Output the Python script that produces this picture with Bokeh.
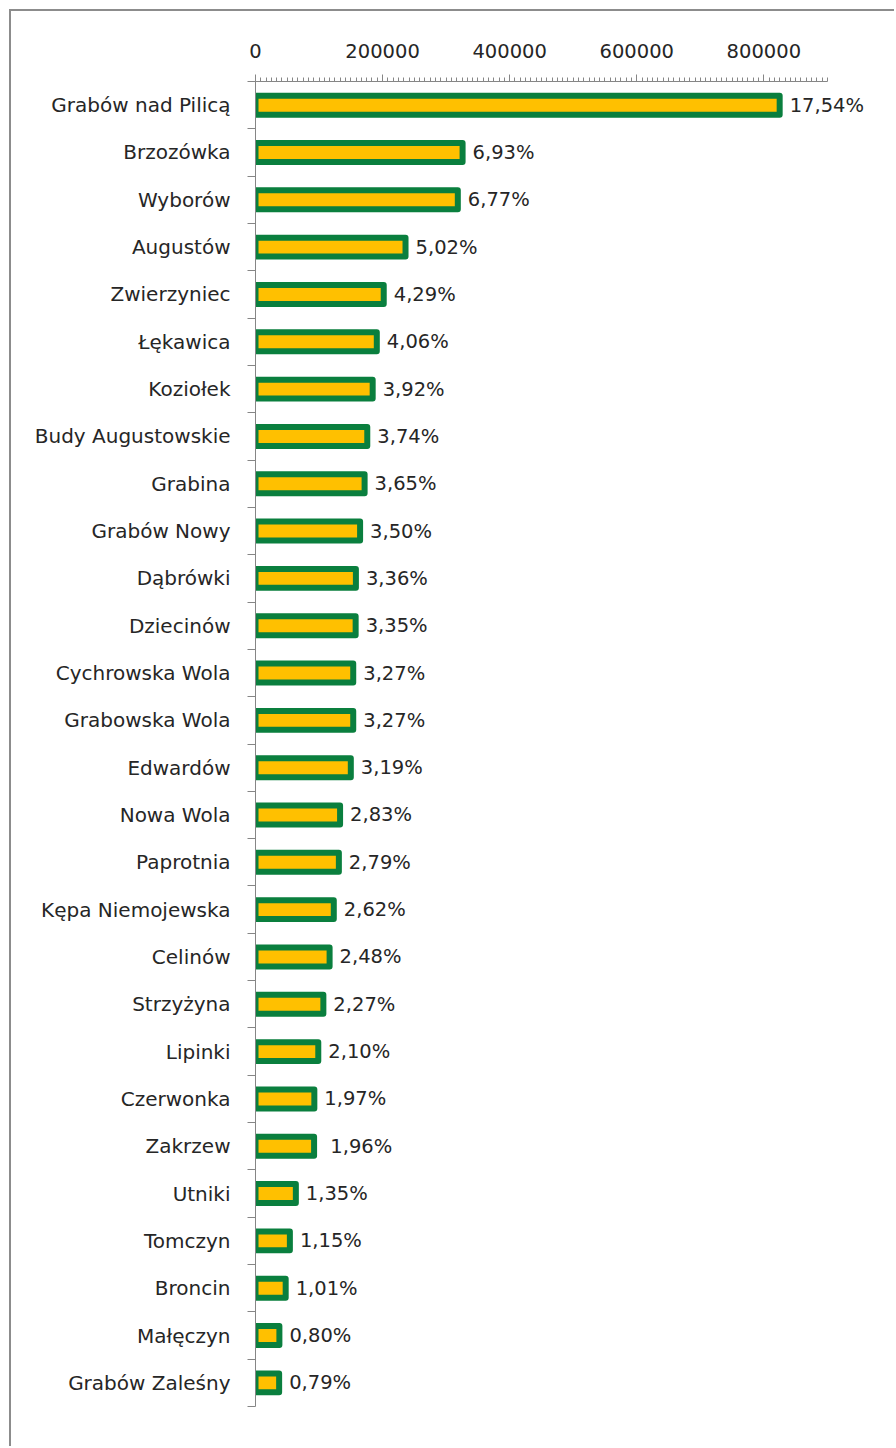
from bokeh.plotting import figure
from bokeh.models import Range1d, FixedTicker, ColumnDataSource
from bokeh.core.properties import value
from bokeh.embed import file_html
from bokeh.resources import INLINE

categories = [
    "Grabów nad Pilicą", "Brzozówka", "Wyborów", "Augustów", "Zwierzyniec",
    "Łękawica", "Koziołek", "Budy Augustowskie", "Grabina", "Grabów Nowy",
    "Dąbrówki", "Dziecinów", "Cychrowska Wola", "Grabowska Wola", "Edwardów",
    "Nowa Wola", "Paprotnia", "Kępa Niemojewska", "Celinów", "Strzyżyna",
    "Lipinki", "Czerwonka", "Zakrzew", "Utniki", "Tomczyn", "Broncin",
    "Małęczyn", "Grabów Zaleśny",
]
values = [
    824900, 325900, 318400, 236100, 201800,
    190900, 184400, 175900, 171700, 164600,
    158000, 157600, 153800, 153800, 150000,
    133100, 131200, 123200, 116600, 106800,
    98800, 92600, 92200, 63500, 54100, 47500,
    37600, 37200,
]
pct_labels = [
    "17,54%", "6,93%", "6,77%", "5,02%", "4,29%",
    "4,06%", "3,92%", "3,74%", "3,65%", "3,50%",
    "3,36%", "3,35%", "3,27%", "3,27%", "3,19%",
    "2,83%", "2,79%", "2,62%", "2,48%", "2,27%",
    "2,10%", "1,97%", "\u00a01,96%", "1,35%", "1,15%", "1,01%",
    "0,80%", "0,79%",
]
x_major_ticks = [0, 200000, 400000, 600000, 800000]
x_axis_max = 900000

FONT = "DejaVu Sans"
TXT = "#262626"
GRAY = "#868686"

n = len(categories)
ypos = [n - 0.5 - i for i in range(n)]
src = ColumnDataSource(dict(cat=categories, val=values, y=ypos, lab=pct_labels))

p = figure(width=885, height=1437, output_backend="svg", toolbar_location=None,
           x_range=Range1d(0, 971000), y_range=Range1d(0, n),
           x_axis_location="above",
           min_border_left=244, min_border_right=24,
           min_border_top=70, min_border_bottom=42)
p.styles = {"border-top": "2px solid #8c8c8c", "border-left": "2px solid #8c8c8c",
            "margin-left": "9px", "margin-top": "9px"}
p.outline_line_color = None
p.xgrid.visible = False
p.ygrid.visible = False
p.background_fill_color = "white"
p.border_fill_color = "white"

# top x axis
xa = p.xaxis[0]
minor = [k * 200000 / 24 for k in range(0, 109)]
xa.ticker = FixedTicker(ticks=x_major_ticks, minor_ticks=minor)
xa.bounds = (0, x_axis_max)
xa.major_label_overrides = {t: str(t) for t in x_major_ticks}
xa.axis_line_color = GRAY
xa.major_tick_line_color = GRAY
xa.minor_tick_line_color = GRAY
xa.major_tick_in = 0
xa.major_tick_out = 7
xa.minor_tick_in = 0
xa.minor_tick_out = 4
xa.major_label_standoff = 17
xa.major_label_text_font = FONT
xa.major_label_text_font_size = "19.5px"
xa.major_label_text_color = TXT

# left category axis
ya = p.yaxis[0]
ya.ticker = FixedTicker(ticks=ypos, minor_ticks=list(range(n + 1)))
ya.major_label_overrides = {y: c for y, c in zip(ypos, categories)}
ya.axis_line_color = GRAY
ya.major_tick_line_color = None
ya.major_tick_in = 0
ya.major_tick_out = 0
ya.minor_tick_line_color = GRAY
ya.minor_tick_in = 0
ya.minor_tick_out = 8
ya.major_label_standoff = 17
ya.major_label_text_font = FONT
ya.major_label_text_font_size = "20px"
ya.major_label_text_color = TXT

p.hbar(y="y", left=0, right="val", height=0.4, source=src,
       fill_color="#FFC000", line_color="#0A7F3E", line_width=6,
       line_join="round")

p.text(x="val", y="y", text="lab", source=src, x_offset=10,
       text_baseline="middle", text_align="left",
       text_font=value(FONT), text_font_size="19.5px", text_color=TXT)

open("out.html", "w").write(file_html(p, INLINE))
